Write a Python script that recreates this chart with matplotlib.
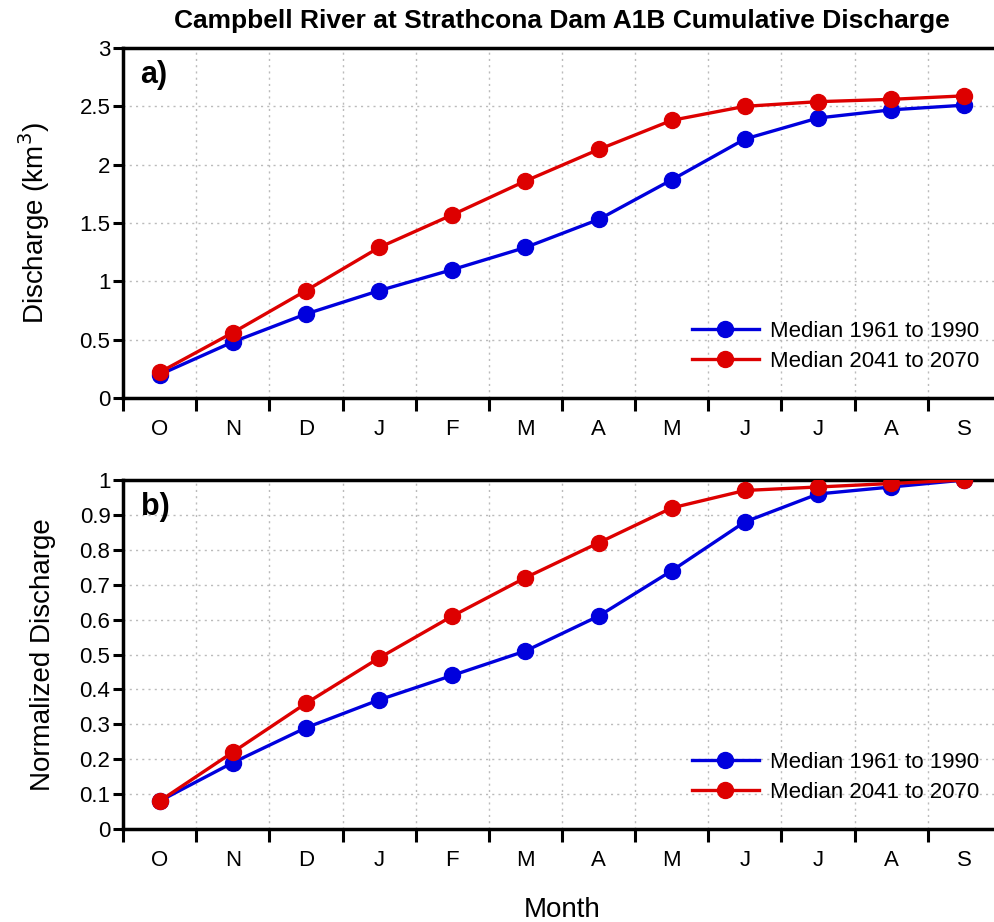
import matplotlib
matplotlib.use("Agg")
import matplotlib.pyplot as plt
import numpy as np

months = ["O", "N", "D", "J", "F", "M", "A", "M", "J", "J", "A", "S"]
cum_1961_1990 = [0.20, 0.48, 0.72, 0.92, 1.10, 1.29, 1.53, 1.87, 2.22, 2.40, 2.47, 2.51]
cum_2041_2070 = [0.22, 0.56, 0.92, 1.29, 1.57, 1.86, 2.13, 2.38, 2.50, 2.54, 2.56, 2.59]
norm_1961_1990 = [0.08, 0.19, 0.29, 0.37, 0.44, 0.51, 0.61, 0.74, 0.88, 0.96, 0.98, 1.00]
norm_2041_2070 = [0.08, 0.22, 0.36, 0.49, 0.61, 0.72, 0.82, 0.92, 0.97, 0.98, 0.99, 1.00]
labels = ["Median 1961 to 1990", "Median 2041 to 2070"]
title = "Campbell River at Strathcona Dam A1B Cumulative Discharge"

plt.rcParams['font.family'] = ['Liberation Sans', 'DejaVu Sans']

BLUE = '#0000dd'
RED = '#dd0000'

fig = plt.figure(figsize=(9.94, 9.22), dpi=100)
W, H = 994, 922
def pos(l, t, r, b):
    return [l / W, 1 - b / H, (r - l) / W, (b - t) / H]

ax1 = fig.add_axes(pos(123, 48, 1001, 398))
ax2 = fig.add_axes(pos(123, 480, 1001, 829))

x = np.arange(len(months)) + 0.5

def style(ax, ymax, yticks, yticklabels):
    ax.set_xlim(0, 12)
    ax.set_ylim(0, ymax)
    ax.set_xticks(np.arange(13))
    ax.set_xticklabels([''] * 13)
    ax.set_xticks(x, minor=True)
    ax.set_xticklabels(months, minor=True, fontsize=16)
    ax.set_yticks(yticks)
    ax.set_yticklabels(yticklabels, fontsize=16)
    ax.tick_params(axis='x', which='major', direction='out', length=9, width=2.2)
    ax.tick_params(axis='x', which='minor', length=0, pad=15)
    ax.tick_params(axis='y', direction='out', length=7, width=2.2, pad=2)
    ax.grid(True, which='major', color='#bbbbbb', linestyle=(0, (1.5, 3)), linewidth=1)
    for s in ['left', 'bottom', 'top', 'right']:
        ax.spines[s].set_linewidth(2.5)

def plot_series(ax, a, b):
    ax.plot(x, a, color=BLUE, lw=2.4, marker='o', ms=11.5, label=labels[0], zorder=3)
    ax.plot(x, b, color=RED, lw=2.4, marker='o', ms=11.5, label=labels[1], zorder=4)

def legend(ax):
    ax.legend(loc='lower right', bbox_to_anchor=(0.985, 0.05), frameon=False, fontsize=16,
              handlelength=3.0, handletextpad=0.5, labelspacing=0.38, borderaxespad=0)

plot_series(ax1, cum_1961_1990, cum_2041_2070)
style(ax1, 3, [0, 0.5, 1, 1.5, 2, 2.5, 3], ['0', '0.5', '1', '1.5', '2', '2.5', '3'])
ax1.set_ylabel('Discharge (km$^3$)', fontsize=20, labelpad=20)
ax1.text(0.02, 0.965, 'a)', transform=ax1.transAxes, fontsize=22, fontweight='bold', va='top')
legend(ax1)

plot_series(ax2, norm_1961_1990, norm_2041_2070)
style(ax2, 1, np.round(np.arange(0, 1.01, 0.1), 1),
      ['0', '0.1', '0.2', '0.3', '0.4', '0.5', '0.6', '0.7', '0.8', '0.9', '1'])
ax2.set_ylabel('Normalized Discharge', fontsize=20, labelpad=17)
ax2.set_xlabel('Month', fontsize=20, labelpad=19)
ax2.text(0.02, 0.965, 'b)', transform=ax2.transAxes, fontsize=22, fontweight='bold', va='top')
legend(ax2)

fig.text(562 / W, 1 - 21 / H, title, ha='center', va='center', fontsize=19,
         fontweight='bold')

fig.savefig('out.png', dpi=100)
